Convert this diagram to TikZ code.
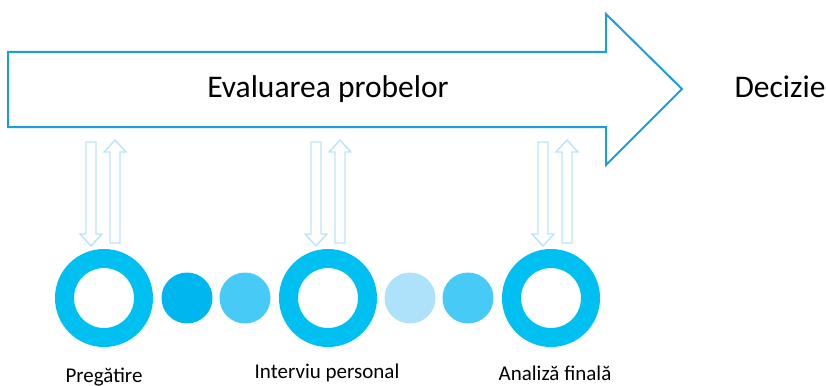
\documentclass[tikz,border=0pt]{standalone}
\usepackage{fontspec}
\setmainfont{Carlito}
\definecolor{ringc}{HTML}{00C0F2}
\definecolor{dotA}{HTML}{00B6EE}
\definecolor{dotB}{HTML}{48CAF6}
\definecolor{dotC}{HTML}{AEE2FA}
\definecolor{arrc}{HTML}{1B9FD8}
\definecolor{smallc}{HTML}{BCE4F9}
\begin{document}
\begin{tikzpicture}[x=1pt,y=-1pt,
  ring/.style={circle,draw=ringc,line width=19pt,fill=white,minimum size=79pt,inner sep=0pt},
  dot/.style={circle,minimum size=51pt,inner sep=0pt},
  blk/.style={draw=smallc,line width=1.4pt,fill=white,line join=miter},
  big/.style={font=\fontsize{31.5}{34}\selectfont,anchor=base},
  lbl/.style={font=\fontsize{21}{23}\selectfont,anchor=base}]
\useasboundingbox (0,0) rectangle (826,385);
% big arrow
\draw[arrc,line width=2pt,line join=miter] (8,52) -- (606,52) -- (606,14) -- (682,89) -- (606,165) -- (606,127) -- (8,127) -- cycle;
\node[big] (eval) at (328,98) {Evaluarea probelor};
\node[big,anchor=base west] (dec) at (731,98) {Decizie};
% small block arrows
\newcommand\dnarr[1]{\draw[blk] ({#1-5},142) -- ({#1+5},142) -- ({#1+5},234) -- ({#1+11},234) -- (#1,246) -- ({#1-11},234) -- ({#1-5},234) -- cycle;}
\newcommand\uparr[1]{\draw[blk] ({#1-5},243) -- ({#1+5},243) -- ({#1+5},152) -- ({#1+11},152) -- (#1,140) -- ({#1-11},152) -- ({#1-5},152) -- cycle;}
\dnarr{91}\uparr{115}
\dnarr{316}\uparr{340}
\dnarr{543}\uparr{567}
% circles
\node[ring] (r1) at (104,298) {};
\node[dot,fill=dotA] (d1) at (187,298) {};
\node[dot,fill=dotB] (d2) at (245,298) {};
\node[ring] (r2) at (328,298) {};
\node[dot,fill=dotC] (d3) at (410,298) {};
\node[dot,fill=dotB] (d4) at (468,298) {};
\node[ring] (r3) at (551,298) {};
% labels
\node[lbl] (l1) at (104,382) {Pregătire};
\node[lbl] (l2) at (327,378) {Interviu personal};
\node[lbl] (l3) at (555,380) {Analiză finală};
\end{tikzpicture}
\end{document}
